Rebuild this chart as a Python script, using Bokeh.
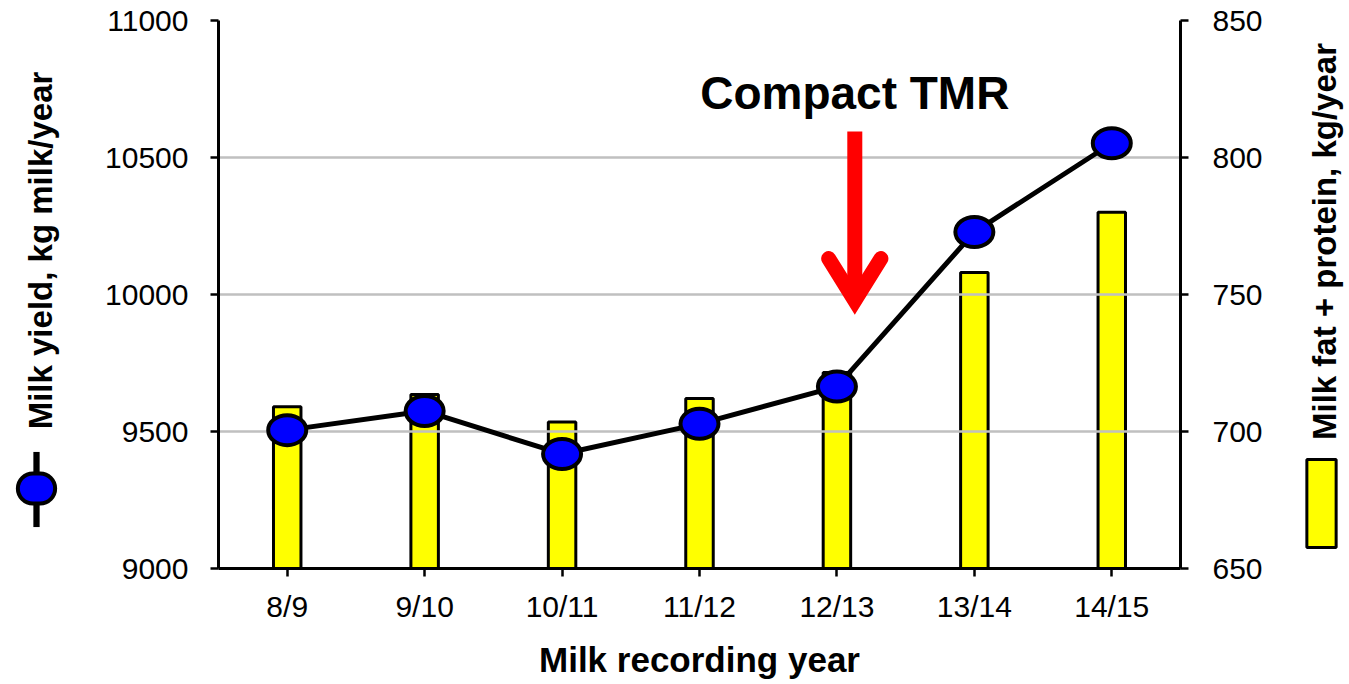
import math
from bokeh.plotting import figure
from bokeh.models import (Range1d, LinearAxis, FactorRange, FixedTicker, Label)
from bokeh.core.properties import value
from bokeh.embed import file_html
from bokeh.resources import INLINE

# ---- data ----
years = ["8/9", "9/10", "10/11", "11/12", "12/13", "13/14", "14/15"]
milk_yield = [9505, 9575, 9418, 9528, 9664, 10228, 10552]      # kg milk/year (left axis)
fat_protein = [709, 713.5, 703.5, 712, 721.5, 758, 780]        # kg/year (right axis)

left_ticks = [9000, 9500, 10000, 10500, 11000]
right_ticks = [650, 700, 750, 800, 850]

annotation_text = "Compact TMR"
annotation_year = "12/13"
left_title = "Milk yield, kg milk/year"
right_title = "Milk fat + protein, kg/year"
x_title = "Milk recording year"

FONT = "Liberation Sans"

p = figure(width=1349, height=684,
           x_range=FactorRange(factors=years, range_padding=0),
           y_range=Range1d(left_ticks[0], left_ticks[-1]),
           output_backend="svg", toolbar_location=None,
           min_border_left=218, min_border_right=169,
           min_border_top=20, min_border_bottom=116)
p.extra_y_ranges = {"right": Range1d(right_ticks[0], right_ticks[-1])}
p.outline_line_color = None
p.background_fill_color = "white"
p.border_fill_color = "white"

p.xgrid.visible = False
p.ygrid.ticker = FixedTicker(ticks=left_ticks)
p.ygrid.grid_line_color = "#c0c0c0"
p.ygrid.grid_line_width = 2.5

# bars (right axis), drawn below grid
p.vbar(x=years, top=fat_protein, bottom=right_ticks[0], width=0.2,
       y_range_name="right", fill_color="#ffff00", line_color="black",
       line_width=3, level="image")

# line + ellipse markers (left axis)
p.line(x=years, y=milk_yield, line_color="black", line_width=5)
p.ellipse(x=years, y=milk_yield, width=38, height=30,
          width_units="screen", height_units="screen",
          fill_color="#0000ff", line_color="black", line_width=4)

# axes styling
def style_axis(ax):
    ax.axis_line_width = 3
    ax.axis_line_color = "black"
    ax.major_tick_line_width = 2.5
    ax.major_tick_line_color = "black"
    ax.major_tick_out = 8
    ax.major_tick_in = 0
    ax.minor_tick_line_color = None
    ax.major_label_text_font = FONT
    ax.major_label_text_font_size = "30px"
    ax.major_label_text_color = "black"

yl = p.yaxis[0]
yl.ticker = FixedTicker(ticks=left_ticks)
style_axis(yl)
yl.major_label_standoff = 22

yr = LinearAxis(y_range_name="right", ticker=FixedTicker(ticks=right_ticks))
style_axis(yr)
yr.major_label_standoff = 24
p.add_layout(yr, "right")

xa = p.xaxis[0]
style_axis(xa)
xa.major_label_standoff = 13
xa.axis_label = x_title
xa.axis_label_text_font = FONT
xa.axis_label_text_font_style = "bold"
xa.axis_label_text_font_size = "35px"
xa.axis_label_text_color = "black"
xa.axis_label_standoff = 14

# arrow + annotation text
base = years.index(annotation_year) + 0.5
arrow_x = base + 0.13
p.segment(x0=[arrow_x], y0=[10595], x1=[arrow_x], y1=[9985],
          line_color="#ff0000", line_width=15)
p.line(x=[arrow_x - 0.19, arrow_x, arrow_x + 0.19], y=[10131, 9978, 10131],
       line_color="#ff0000", line_width=15, line_cap="round", line_join="miter")
p.text(x=[arrow_x], y=[10735], text=[annotation_text],
       text_font=value(FONT), text_font_style="bold", text_font_size="46px",
       text_align="center", text_baseline="alphabetic", text_color="black")

# side titles (placed in the side panels so they are not clipped)
p.add_layout(Label(x=40, y=250, x_units="canvas", y_units="canvas",
                   angle=math.pi / 2, text=left_title, text_font=FONT,
                   text_font_style="bold", text_font_size="33px",
                   text_align="center", text_baseline="middle",
                   text_color="black"), "left")
p.add_layout(Label(x=1324, y=241, x_units="canvas", y_units="canvas",
                   angle=math.pi / 2, text=right_title, text_font=FONT,
                   text_font_style="bold", text_font_size="33px",
                   text_align="center", text_baseline="middle",
                   text_color="black"), "right")

# legend icons (label boxes)
def icon(x, y, w, h, fill, line_w, radius=0, side="left"):
    lab = Label(x=x, y=y, x_units="canvas", y_units="canvas", text=" ",
                text_font_size="1px", text_align="center",
                text_baseline="middle",
                padding=dict(left=w // 2, right=w - w // 2,
                             top=h // 2, bottom=h - h // 2),
                background_fill_color=fill, background_fill_alpha=1,
                border_line_color="black" if line_w else None,
                border_line_width=line_w or 1,
                border_radius=radius)
    p.add_layout(lab, side)

icon(36, 489, 6, 74, "black", 0)
icon(36, 488, 37, 29, "#0000ff", 4, radius=15)
icon(1321, 503, 29, 87, "#ffff00", 3, side="right")

open("out.html", "w").write(file_html(p, INLINE))
